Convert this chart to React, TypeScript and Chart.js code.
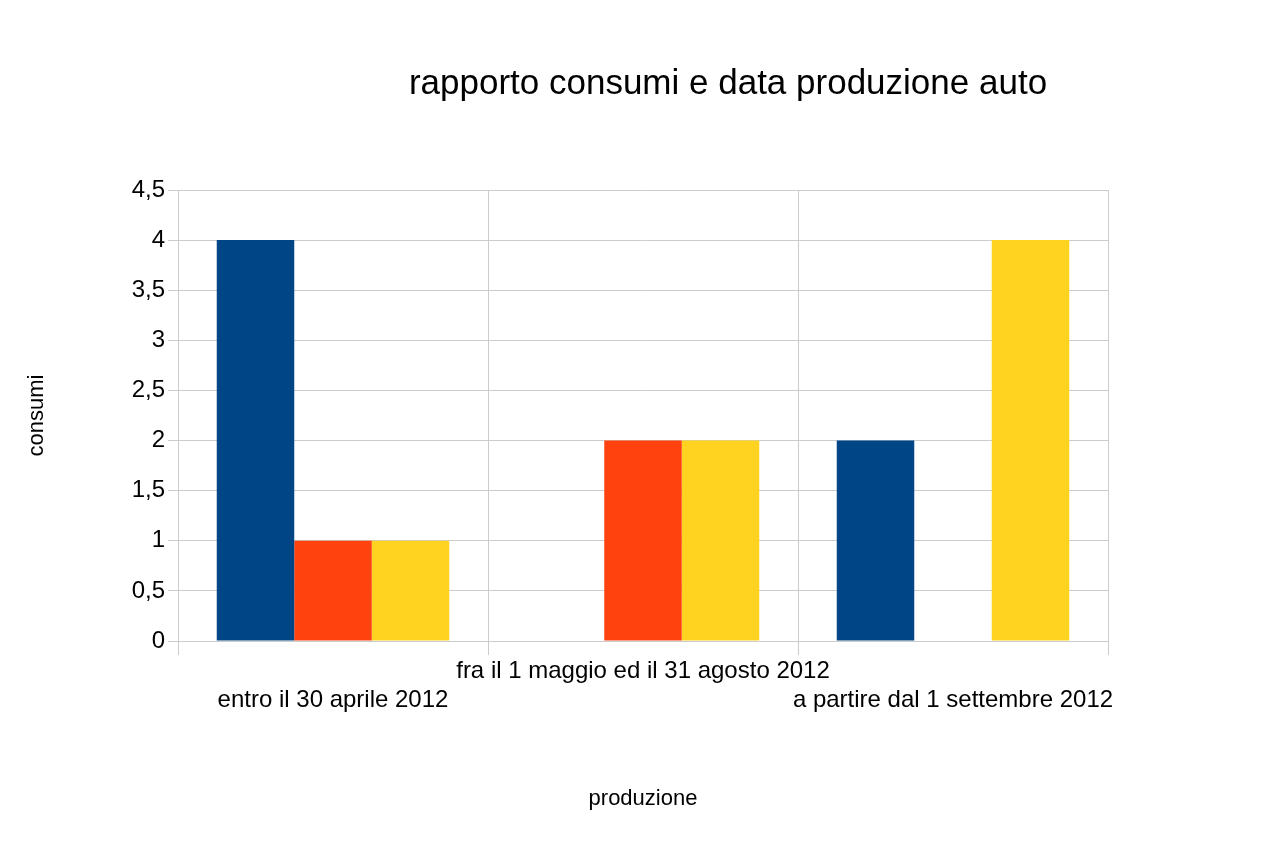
import React, { useEffect, useRef } from "react";
import Chart from "chart.js/auto";

const categories = [
  "entro il 30 aprile 2012",
  "fra il 1 maggio ed il 31 agosto 2012",
  "a partire dal 1 settembre 2012",
];
const serie1 = [4, 0, 2];
const serie2 = [1, 2, 0];
const serie3 = [1, 2, 4];
const colors = ["#004586", "#ff420e", "#ffd320"];

const FONT = "'Liberation Sans', Arial, sans-serif";

export default function App() {
  const canvasRef = useRef<HTMLCanvasElement | null>(null);

  useEffect(() => {
    document.body.style.margin = "0";
    if (!canvasRef.current) return;
    const chart = new Chart(canvasRef.current, {
      type: "bar",
      data: {
        labels: categories,
        datasets: [serie1, serie2, serie3].map((d, i) => ({
          label: "Serie " + (i + 1),
          data: d,
          backgroundColor: colors[i],
          categoryPercentage: 0.75,
          barPercentage: 1,
        })),
      },
      options: {
        animation: false,
        responsive: false,
        layout: { padding: { left: 20, right: 172, top: 190, bottom: 30 } },
        plugins: { legend: { display: false }, tooltip: { enabled: false } },
        scales: {
          x: {
            grid: { color: "#cccccc", tickLength: 14 },
            border: { color: "#cccccc" },
            ticks: {
              color: "#000",
              font: { family: FONT, size: 24 },
              maxRotation: 0,
              autoSkip: false,
              padding: 2,
              callback: (_v, i) => (i === 1 ? [categories[i], ""] : ["", categories[i]]),
            },
            title: {
              display: true,
              text: "produzione",
              color: "#000",
              font: { family: FONT, size: 22 },
              padding: { top: 30 },
            },
            afterFit: (s: any) => {
              s.height = 175;
            },
          },
          y: {
            min: 0,
            max: 4.5,
            grid: { color: "#cccccc", tickLength: 10 },
            border: { color: "#cccccc" },
            ticks: {
              stepSize: 0.5,
              color: "#000",
              font: { family: FONT, size: 24 },
              callback: (v) => String(v).replace(".", ","),
            },
            title: {
              display: true,
              text: "consumi",
              color: "#000",
              font: { family: FONT, size: 22 },
              padding: { bottom: 40 },
            },
            afterFit: (s: any) => {
              s.width = 158;
            },
          },
        },
      },
    });
    return () => chart.destroy();
  }, []);

  return (
    <div style={{ position: "relative", width: 1280, height: 846, background: "#fff" }}>
      <div
        style={{
          position: "absolute",
          top: 62,
          left: 0,
          width: 1456,
          textAlign: "center",
          fontFamily: FONT,
          fontSize: 35,
          color: "#000",
        }}
      >
        rapporto consumi e data produzione auto
      </div>
      <canvas ref={canvasRef} width={1280} height={846} />
    </div>
  );
}
